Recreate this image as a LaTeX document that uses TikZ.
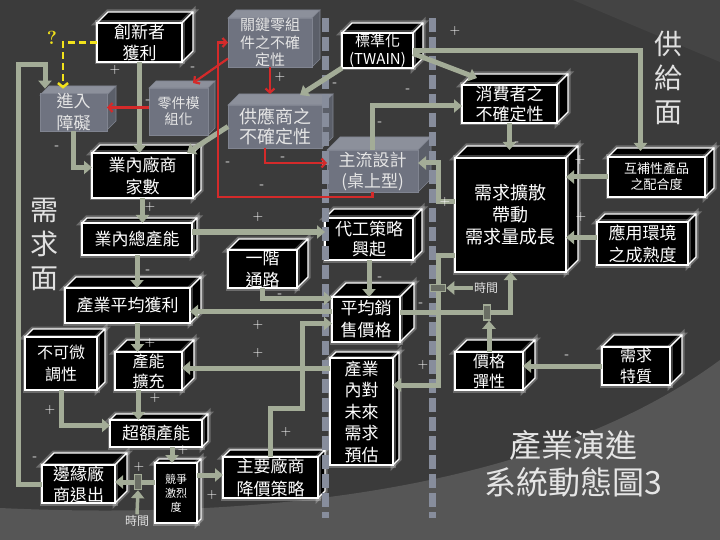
\documentclass[tikz,border=0pt]{standalone}
\usepackage{fontspec}
\newfontfamily\cjk{Noto Sans CJK TC}
\usetikzlibrary{arrows.meta}
\definecolor{bgDark}{HTML}{3B3B3B}
\definecolor{bgMid}{HTML}{444444}
\definecolor{bgLight}{HTML}{565656}
\definecolor{sage}{HTML}{A3AC97}
\definecolor{pipeGray}{HTML}{878D9C}
\definecolor{boxGray}{HTML}{6F7380}
\definecolor{boxGrayTop}{HTML}{8C909B}
\definecolor{boxGraySide}{HTML}{5B5F69}
\definecolor{redLink}{HTML}{D42A2A}
\definecolor{yellowLink}{HTML}{F2E21B}

\begin{document}
\begin{tikzpicture}[x=1pt,y=-1pt,%%
  blackBox/.style={fill=black,draw=white,line width=1.3pt,text=white,%%
    align=center,inner sep=0pt,outer sep=0pt,%%
    preaction={draw=white,opacity=0.25,line width=5pt}},%%
  blackBoxTop/.style={fill=black,draw=white,line width=1.3pt,line join=round,%%
    preaction={draw=white,opacity=0.25,line width=5pt}},%%
  blackBoxSide/.style={blackBoxTop},%%
  grayBox/.style={fill=boxGray,draw=boxGrayTop!60!boxGray,line width=0.6pt,%%
    text=white!90!black,align=center,inner sep=0pt,outer sep=0pt},%%
  grayBoxTop/.style={fill=boxGrayTop,draw=boxGrayTop!60!boxGray,line width=0.6pt},%%
  grayBoxSide/.style={fill=boxGraySide,draw=boxGrayTop!60!boxGray,line width=0.6pt},%%
  linkDecorate/.style={draw=sage,line width=5pt,-{Triangle[length=8pt,width=13pt]}},%%
  redDecorate/.style={draw=redLink,line width=2.2pt,%%
    -{Straight Barb[length=4pt,width=9pt]}},%%
  yellowDecorate/.style={draw=yellowLink,line width=2.5pt,dash pattern=on 7pt off 4pt,%%
    -{Straight Barb[length=4pt,width=10pt]}},%%
  pipeDecorate/.style={draw=pipeGray,line width=7pt,dash pattern=on 14pt off 5pt},%%
  delayMark/.style={draw=sage,fill=sage!45!bgDark,line width=1.5pt,inner sep=0pt,%%
    minimum width=7pt,minimum height=15pt},%%
  delayMarkH/.style={delayMark,minimum width=15pt,minimum height=7pt},%%
  timeDecorate/.style={text=white!88!black,font=\cjk\fontsize{12}{14}\selectfont,inner sep=1pt},%%
  signDecorate/.style={text=white,font=\fontsize{14}{14}\selectfont,inner sep=0pt,%%
    text height=7pt,text depth=0pt},%%
  sideDecorate/.style={text=white!88!black,align=center,%%
    font=\cjk\fontsize{28}{34}\selectfont}%%
]
%%
%% Background.
\useasboundingbox (0,0) rectangle (720,540);
\fill[bgDark] (0,0) rectangle (720,540);
\fill[bgMid] (573,0) -- (720,0) -- (720,62) -- cycle;
\fill[bgLight] (0,508) .. controls (300,522) and (560,478) .. (720,360)
  -- (720,540) -- (0,540) -- cycle;
%%
%% Boxes: name/centre x/centre y/width/height/depth/kind/size/skip/text.
\foreach \name/\cx/\cy/\w/\h/\d/\kind/\fs/\ls/\txt in {%%
  innovProfit/139.5/42.5/85/39/11/blackBox/17/21/創新者\\獲利,
  keyPartUnc/270/42.5/84/49/8/grayBox/15/17.5/關鍵零組\\件之不確\\定性,
  standard/377.5/50.5/71/35/10/blackBox/15/18/標準化\\(TWAIN),
  partModule/178.5/111.5/59/47/7/grayBox/14/16/零件模\\組化,
  entryBarrier/73.5/112.5/67/35/9/grayBox/17/22/進入\\障礙,
  supplierUnc/275/126.5/94/43/11/grayBox/18/20/供應商之\\不確定性,
  consumerUnc/509.5/104/95/38/11/blackBox/17/20/消費者之\\不確定性,
  mainDesign/372.5/171/91/42/13/grayBox/17/21/主流設計\\(桌上型),
  firmCount/142.5/175.5/101/45/8/blackBox/17/22/業內廠商\\家數,
  demandSpread/510.5/215/111/114/12/blackBox/18/22/需求擴散\\帶動\\需求量成長,
  complement/656.5/177/97/40/9/blackBox/13/16/互補性產品\\之配合度,
  appEnv/642.5/243.5/91/43/8/blackBox/17/22/應用環境\\之成熟度,
  totalCap/137/239/110/32/5/blackBox/17/20/業內總產能,
  oemRise/369/239/88/42/9/blackBox/17/20/代工策略\\興起,
  channel/262.5/269/69/38/11/blackBox/17/22/一階\\通路,
  avgProfit/127.5/305.5/125/35/11/blackBox/17/20/產業平均獲利,
  avgPrice/366/319.5/68/45/14/blackBox/17/22/平均銷\\售價格,
  noFineTune/61/363.5/72/53/8/blackBox/16/22/不可微\\調性,
  capExpand/148.5/371/67/38/12/blackBox/16/20/產能\\擴充,
  overCap/156/433.5/92/27/6/blackBox/17/20/超額產能,
  marginalExit/78.5/484/73/38/12/blackBox/17/21/邊緣廠\\商退出,
  competition/176/493/42/60/4/blackBox/11/14/競爭\\激烈\\度,
  priceCut/270.5/477.5/95/41/7/blackBox/17/23/主要廠商\\降價策略,
  demandForecast/361.5/411.5/63/107/6/blackBox/17/21.5/產業\\內對\\未來\\需求\\預估,
  elasticity/489/371/68/38/12/blackBox/16/20/價格\\彈性,
  demandTrait/636/366/68/38/12/blackBox/16/21/需求\\特質%%
}{
  \pgfmathsetmacro{\xa}{\cx-\w/2}
  \pgfmathsetmacro{\xb}{\cx+\w/2}
  \pgfmathsetmacro{\ya}{\cy-\h/2}
  \pgfmathsetmacro{\yb}{\cy+\h/2}
  \path[\kind Top] (\xa,\ya) -- (\xa+\d,\ya-\d) -- (\xb+\d,\ya-\d) -- (\xb,\ya) -- cycle;
  \path[\kind Side] (\xb,\ya) -- (\xb+\d,\ya-\d) -- (\xb+\d,\yb-\d) -- (\xb,\yb) -- cycle;
  \node[\kind,minimum width=\w,minimum height=\h,%%
    font=\cjk\fontsize{\fs}{\ls}\selectfont] (\name) at (\cx,\cy) {\txt};
}
%%
%% Time walls.
\foreach \px in {325,432} {
  \draw[pipeDecorate] (\px,18) -- (\px,518);
}
%%
%% Side and title labels.
\node[sideDecorate] (supplySide) at (668,78) {供\\給\\面};
\node[sideDecorate] (demandSide) at (44,244) {需\\求\\面};
\node[text=white!90!black,align=center,font=\cjk\fontsize{32}{37}\selectfont]
  (title) at (573,464) {產業演進\\系統動態圖3};
%%
%% Supply side links.
\draw[linkDecorate] (standard.south west) -- ([shift={(25,-10)}]supplierUnc.north);
\draw[linkDecorate] (standard.east) -| ([shift={(-16,-6)}]complement.north);
\draw[linkDecorate] ([yshift=-3pt]standard.east) -- ([shift={(15,-7)}]consumerUnc.north west);
\draw[linkDecorate] (mainDesign.north) |- ([yshift=-2pt]consumerUnc.west);
\coordinate (designBend) at (438,163);
\draw[linkDecorate] ([yshift=13pt]demandSpread.west) -| (designBend)
  -- (designBend -| mainDesign.east);
\draw[linkDecorate] (consumerUnc.south) -- ([shift={(-1,-8)}]demandSpread.north);
\draw[linkDecorate] (complement.west) -- (complement.west -| demandSpread.east);
\coordinate (envOut) at ([yshift=6pt]appEnv.west);
\draw[linkDecorate] (envOut) -- (envOut -| demandSpread.east);
%%
%% Demand side links.
\draw[linkDecorate] (innovProfit.south) -- (innovProfit.south |- firmCount.north);
\coordinate (loopCorner) at (18,65);
\draw[linkDecorate] (marginalExit.west) -| (loopCorner)
  -| ([shift={(5,-5)}]entryBarrier.north west);
\draw[linkDecorate] (entryBarrier.south) |- ([yshift=8pt]firmCount.west);
\draw[linkDecorate] (supplierUnc.west) -- ([xshift=-6pt]firmCount.north east);
\draw[linkDecorate] (firmCount.south) -- (firmCount.south |- totalCap.north);
\draw[linkDecorate] (totalCap.south) -- (totalCap.south |- avgProfit.north);
\coordinate (capOut) at ([yshift=7pt]totalCap.east);
\draw[linkDecorate] (capOut) -- (capOut -| oemRise.west);
\coordinate (priceOut) at ([yshift=8pt]avgPrice.west);
\draw[linkDecorate] (priceOut) -- (priceOut -| avgProfit.east);
\coordinate (cutBend) at (302,408);
\draw[linkDecorate] (priceCut.north) |- (cutBend) |- ([yshift=-4pt]avgPrice.west);
\draw[linkDecorate] (oemRise.south) -- (oemRise.south |- avgPrice.north);
\draw[linkDecorate] (channel.south) |- ([yshift=21pt]avgPrice.west);
%%
%% Price towards demand, with a delay.
\coordinate (priceRight) at ([yshift=7pt]avgPrice.east);
\draw[linkDecorate] (priceRight) -| (demandSpread.south);
\node[delayMark] (delayPrice) at (487,312.5) {};
\draw[linkDecorate] (elasticity.north) -- (elasticity.north |- delayPrice.south);
\draw[linkDecorate] (demandTrait.west) -- (demandTrait.west -| elasticity.east);
%%
%% Demand towards forecast, with a delay.
\coordinate (forecastBend) at (438,385);
\draw[linkDecorate] ([yshift=-40pt]demandSpread.west) -| (forecastBend)
  -- (forecastBend -| demandForecast.east);
\node[delayMarkH] (delayForecast) at (438,288) {};
\node[timeDecorate] (timeForecast) at (486,288) {時間};
\draw[linkDecorate,line width=3.5pt] (timeForecast.west) -- (delayForecast.east);
\coordinate (forecastOut) at ([yshift=43.5pt]demandForecast.west);
\draw[linkDecorate] (forecastOut) -- (forecastOut -| capExpand.east);
%%
%% Capacity chain.
\coordinate (profitDown) at ([xshift=10pt]avgProfit.south);
\draw[linkDecorate] (profitDown) -- (profitDown |- capExpand.north);
\coordinate (expandDown) at ([xshift=-10pt]capExpand.south);
\draw[linkDecorate] (expandDown) -- (expandDown |- overCap.north);
\draw[linkDecorate] (noFineTune.south) |- ([yshift=8pt]overCap.west);
\coordinate (overDown) at ([xshift=16pt]overCap.south);
\draw[linkDecorate] (overDown) -- (overDown |- competition.north);
\coordinate (compLeft) at ([yshift=11pt]competition.west);
\draw[linkDecorate] (compLeft) -- (compLeft -| marginalExit.east);
\node[delayMark] (delayExit) at (138,482) {};
\node[timeDecorate] (timeExit) at (137,521) {時間};
\draw[linkDecorate,line width=3.5pt] (timeExit.north) -- (delayExit.south);
\coordinate (compRight) at ([yshift=18pt]competition.east);
\draw[linkDecorate] (compRight) -- (compRight -| priceCut.west);
%%
%% Red links of the supply chain.
\coordinate (moduleLeft) at ([yshift=4pt]partModule.west);
\draw[redDecorate] (moduleLeft) -- (moduleLeft -| entryBarrier.east);
\coordinate (supplierTop) at ([yshift=11pt]supplierUnc.north);
\draw[redDecorate] (keyPartUnc.south) -- (keyPartUnc.south |- supplierTop);
\draw[redDecorate] ([yshift=-16pt]keyPartUnc.west) -- ([shift={(-15,-5)}]partModule.north east);
\coordinate (redCorner) at (218,197);
\draw[redDecorate] (mainDesign.south) |- (redCorner) |- (keyPartUnc.west);
\coordinate (supplierOut) at ([xshift=-10pt]supplierUnc.south);
\draw[redDecorate] (supplierOut) |- ([yshift=8pt]mainDesign.west);
%%
%% Open question.
\draw[yellowDecorate] (innovProfit.west) -| ([shift={(23,-5)}]entryBarrier.north west);
\node[text=yellowLink,font=\fontsize{19}{19}\selectfont\bfseries] (question) at (52,38) {?};
%%
%% Signs.
\foreach \x/\y/\s [count=\i] in {115/70/+,193/67/-,280/77/+,148/100/-,57/146/-,
  335/83/-,455/31/+,408/89/-,380/122/-,228/162/-,283/157/-,262/185/-,
  445/202/+,517/142/-,580/160/+,581/217/+,150/207/+,258/217/+,148/270/-,
  380/277/-,280/294/-,421/303/-,258/325/+,150/343/+,258/353/+,423/365/+,
  155/398/+,50/410/+,35/457/-,183/450/+,139/467/+,212/495/+,286/432/+,567/355/-} {
  \node[signDecorate] (sign\i) at (\x,\y) {\s};
}
\end{tikzpicture}
\end{document}
